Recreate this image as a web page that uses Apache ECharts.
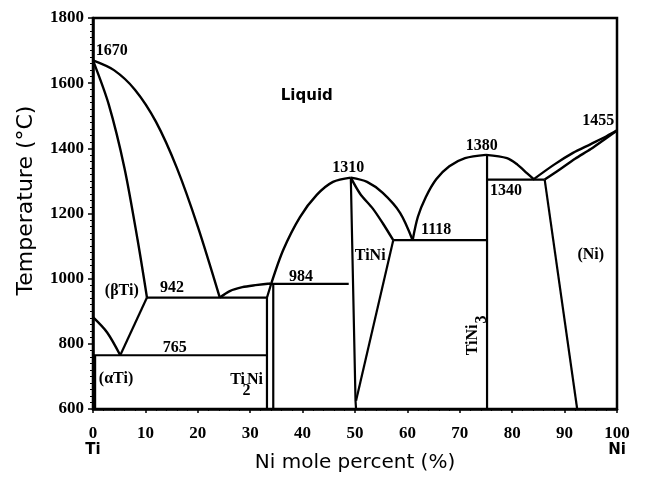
<!DOCTYPE html>
<html>
<head>
<meta charset="utf-8">
<script src="https://cdn.jsdelivr.net/npm/echarts@6/dist/echarts.min.js"></script>
<style>
  html, body { margin: 0; padding: 0; background: #fff; }
  #chart { width: 647px; height: 479px; }
</style>
</head>
<body>
<div id="chart"></div>
<script>
// Ti–Ni binary phase diagram: composition (Ni mole %) vs temperature (°C)

// Phase boundaries, each as [Ni %, °C]
const tiLiquidus        = [[0,1670],[4,1640],[8,1580],[12,1482],[16,1340],[20,1160],[24.2,942]];
const betaSolidus       = [[0,1670],[3,1535],[6,1340],[8.5,1120],[10.3,942]];
const betaTransus       = [[0,882],[2.7,835],[5.2,765]];
const betaEutectoid     = [[5.2,765],[10.3,942]];
const isotherm765       = [[0,765],[33.2,765]];
const isotherm942       = [[10.3,942],[33.2,942]];
const alphaSolvus       = [[0.4,765],[0.4,600]];
const ti2NiLiquidus     = [[24.2,942],[26.1,962],[28.5,974],[31,980],[33.8,985]];
const ti2NiLeft         = [[33.2,600],[33.2,942],[34.0,984]];
const ti2NiRight        = [[34.4,600],[34.4,984]];
const isotherm984       = [[33.6,984],[48.8,984]];
const tiNiLiquidusLeft  = [[34,984],[36.3,1088],[39.5,1189],[42.7,1257],[45.8,1297],[49.2,1310]];
const tiNiLiquidusRight = [[49.2,1310],[52.3,1297],[55.3,1263],[58.6,1202],[61,1118]];
const tiNiSolidusRight  = [[49.2,1310],[51,1260],[53.4,1215],[55.3,1170],[57.3,1118]];
const tiNiLeft          = [[49.2,1310],[50.1,625],[50.2,600]];
const tiNiRight         = [[57.3,1118],[50.2,625]];
const isotherm1118      = [[57.3,1118],[75.2,1118]];
const tiNi3LiquidusLeft = [[61,1118],[62,1190],[63.5,1250],[65.5,1305],[68,1345],[71,1370],[75,1380]];
const tiNi3LiquidusRight= [[75,1380],[79,1370],[81,1350],[82.8,1324],[84.2,1304]];
const tiNi3Line         = [[75.2,1380],[75.2,600]];
const isotherm1304      = [[75.2,1304],[86.2,1304]];
const niLiquidus        = [[84,1304],[88,1350],[91.6,1386],[95,1413],[98,1437],[100,1455]];
const niSolidus         = [[86.2,1304],[89,1334],[92,1368],[95,1398],[98,1432],[100,1455]];
const niSolvus          = [[86.2,1304],[92.4,600]];

const smoothCurves = [tiLiquidus, betaSolidus, betaTransus, ti2NiLiquidus, tiNiLiquidusLeft,
  tiNiLiquidusRight, tiNiSolidusRight, tiNi3LiquidusLeft, tiNi3LiquidusRight, niLiquidus, niSolidus];
const straightLines = [betaEutectoid, isotherm765, isotherm942, alphaSolvus, ti2NiLeft, ti2NiRight,
  isotherm984, tiNiLeft, tiNiRight, isotherm1118, tiNi3Line, isotherm1304, niSolvus];

// Axis ticks
const xTicks = [0,10,20,30,40,50,60,70,80,90,100];
const yTicks = [600,800,1000,1200,1400,1600,1800];
const xEndNames = { 0: 'Ti', 100: 'Ni' };

// Annotations: text and its [Ni %, °C] anchor
const numberLabels  = ['1670','1310','1380','1455','1340','1118','984','942','765'];
const numberAnchors = [[3.6,1699],[48.7,1340],[74.2,1407],[96.4,1484],[78.8,1269],[65.5,1149],[39.7,1005],[15.1,971],[15.6,787]];
const phaseLabels   = ['(βTi)','(αTi)','TiNi','(Ni)','Ti','Ni','2'];
const phaseAnchors  = [[5.5,962],[4.4,692],[52.9,1070],[95,1073],[27.6,689],[30.9,689],[29.3,656]];
const liquidLabel   = 'Liquid';
const liquidAnchor  = [40.8,1561];
const verticalLabels  = ['TiNi','3'];
const verticalAnchors = [[72.5,812],[74.2,875]];

const LINE = '#000';
const serif = '"Liberation Serif", "Times New Roman", serif';
const sans = '"DejaVu Sans", Arial, sans-serif';

const series = [];
smoothCurves.forEach(d => series.push({
  type: 'line', data: d, smooth: 0.3, symbol: 'none', silent: true,
  lineStyle: { color: LINE, width: 2.4 }
}));
straightLines.forEach(d => series.push({
  type: 'line', data: d, symbol: 'none', silent: true,
  lineStyle: { color: LINE, width: 2.2 }
}));

function textSeries(names, anchors, label) {
  return {
    type: 'scatter', symbolSize: 0, silent: true,
    itemStyle: { opacity: 1 },
    data: names.map((t, i) => ({ name: t, value: anchors[i] })),
    label: Object.assign({ show: true, position: 'inside', color: '#000',
      formatter: p => p.name }, label)
  };
}

series.push(textSeries(numberLabels, numberAnchors, { fontFamily: serif, fontSize: 16, fontWeight: 'bold' }));
series.push(textSeries(phaseLabels, phaseAnchors, { fontFamily: serif, fontSize: 16, fontWeight: 'bold' }));
series.push(textSeries([liquidLabel], [liquidAnchor], { fontFamily: sans, fontSize: 15, fontWeight: 'bold' }));
series.push(textSeries(verticalLabels, verticalAnchors, { fontFamily: serif, fontSize: 16, fontWeight: 'bold', rotate: 90 }));

const chart = echarts.init(document.getElementById('chart'), null, { renderer: 'canvas' });
chart.setOption({
  animation: false,
  backgroundColor: '#fff',
  grid: { left: 93, right: 30, top: 18, bottom: 70, containLabel: false, outerBoundsMode: 'none',
    show: true, borderColor: '#000', borderWidth: 2.5 },
  xAxis: {
    type: 'value', min: xTicks[0], max: xTicks[xTicks.length - 1], interval: 10,
    name: 'Ni mole percent (%)', nameLocation: 'middle', nameGap: 44, nameMoveOverlap: false,
    nameTextStyle: { fontFamily: sans, fontSize: 20, color: '#000' },
    axisLine: { show: true, lineStyle: { color: '#000', width: 2.5 } },
    axisTick: { show: true, length: 4, lineStyle: { color: '#000', width: 1.5 } },
    minorTick: { show: true, splitNumber: 5, length: 2, lineStyle: { color: '#000', width: 1 } },
    splitLine: { show: false },
    axisLabel: {
      margin: 16, color: '#000',
      formatter: v => xEndNames[v] ? '{n|' + v + '}\n{e|' + xEndNames[v] + '}' : '{n|' + v + '}',
      rich: {
        n: { fontFamily: serif, fontSize: 17, fontWeight: 'bold', color: '#000', lineHeight: 17 },
        e: { fontFamily: sans, fontSize: 15, fontWeight: 'bold', color: '#000', lineHeight: 17 }
      }
    }
  },
  yAxis: {
    type: 'value', min: yTicks[0], max: yTicks[yTicks.length - 1], interval: 200,
    name: 'Temperature (°C)', nameLocation: 'middle', nameGap: 56, nameRotate: 90, nameMoveOverlap: false,
    nameTextStyle: { fontFamily: sans, fontSize: 22, color: '#000', padding: [0, 0, 0, 26] },
    axisLine: { show: true, lineStyle: { color: '#000', width: 2.5 } },
    axisTick: { show: true, length: 5, lineStyle: { color: '#000', width: 1.5 } },
    minorTick: { show: true, splitNumber: 10, length: 3, lineStyle: { color: '#000', width: 1 } },
    splitLine: { show: false },
    axisLabel: { margin: 9, fontFamily: serif, fontSize: 17, fontWeight: 'bold', color: '#000',
      formatter: v => String(v) }
  },
  series: series
});
</script>
</body>
</html>
